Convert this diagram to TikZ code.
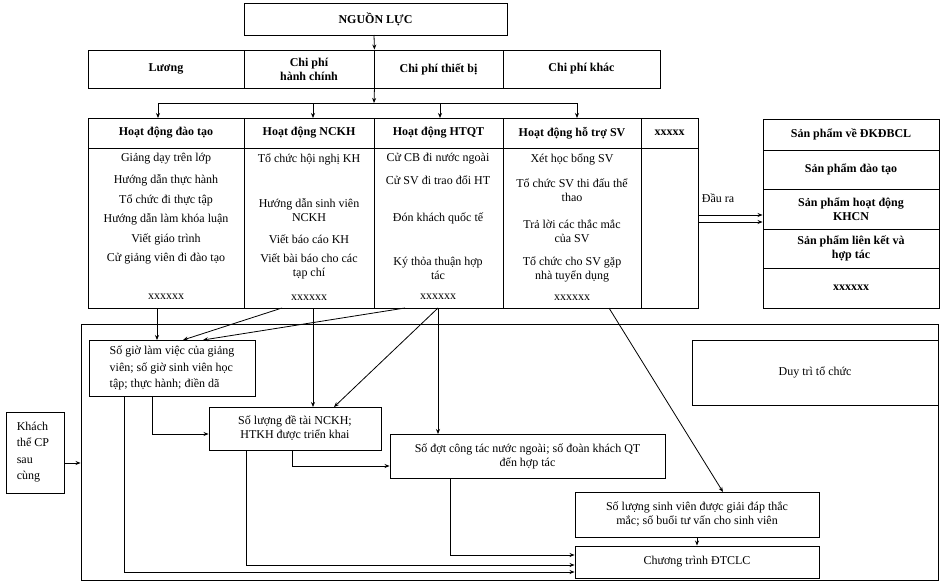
\documentclass[tikz,border=0pt]{standalone}
\usepackage{fontspec}
\setmainfont{Liberation Serif}
\usetikzlibrary{arrows.meta,calc}
\newcommand\bxn[6]{\node[bx,minimum width={(#4-#2)*1pt},minimum height={(#5-#3)*1pt}] (#1) at ({(#2+#4)/2},{(#3+#5)/2}) {#6};}
\begin{document}
\begin{tikzpicture}[x=1pt,y=-1pt,
  bx/.style={draw,line width=0.9pt,inner sep=0pt,align=center,font=\fontsize{12}{14}\selectfont},
  tx/.style={inner sep=0pt,align=center,font=\fontsize{12}{14}\selectfont},
  ar/.style={-{Stealth[length=5pt,width=4pt]},line width=0.8pt},
  ln/.style={line width=0.8pt}]
\useasboundingbox (0,0) rectangle (941,584);
% top
\bxn{nl}{244}{3}{507}{35}{\bfseries NGUỒN LỰC}
\bxn{luong}{88}{50}{244}{88}{\bfseries Lương}
\bxn{hc}{244}{50}{374}{88}{\bfseries Chi phí\\\bfseries hành chính}
\bxn{tb}{374}{50}{503}{88}{\bfseries Chi phí thiết bị}
\bxn{khac}{503}{50}{660}{88}{\bfseries Chi phí khác}
\draw[ar] (374,35) -- (hc.north east);
\coordinate (j) at (374,103);
\draw[ar] (hc.south east) -- (j);
\draw[ln] (158,103) -- (577,103);
% activity table
\bxn{h1}{88}{118}{244}{148}{\bfseries Hoạt động đào tạo}
\bxn{h2}{244}{118}{374}{148}{\bfseries Hoạt động NCKH}
\bxn{h3}{374}{118}{503}{148}{\bfseries Hoạt động HTQT}
\bxn{h4}{503}{118}{641}{148}{\bfseries Hoạt động hỗ trợ SV}
\bxn{h5}{641}{118}{698}{148}{\bfseries xxxxx}
\bxn{b1}{88}{148}{244}{308}{}
\bxn{b2}{244}{148}{374}{308}{}
\bxn{b3}{374}{148}{503}{308}{}
\bxn{b4}{503}{148}{641}{308}{}
\bxn{b5}{641}{148}{698}{308}{}
\foreach \x in {158,313,440,577} \draw[ar] (\x,103) -- (\x,118);
% column texts
\foreach \t/\y in {Giảng dạy trên lớp/159,Hướng dẫn thực hành/180,Tổ chức đi thực tập/200,Hướng dẫn làm khóa luận/219,Viết giáo trình/239,Cử giảng viên đi đào tạo/259,xxxxxx/297}
  \node[tx] at (166,\y) {\t};
\node[tx] at (309,159) {Tổ chức hội nghị KH};
\node[tx] at (309,210) {Hướng dẫn sinh viên\\NCKH};
\node[tx] at (309,239) {Viết báo cáo KH};
\node[tx] at (309,266) {Viết bài báo cho các\\tạp chí};
\node[tx] at (309,298) {xxxxxx};
\node[tx] at (438,159) {Cử CB đi nước ngoài};
\node[tx] at (438,180) {Cử SV đi trao đổi HT};
\node[tx] at (438,218) {Đón khách quốc tế};
\node[tx] at (438,268) {Ký thỏa thuận hợp\\tác};
\node[tx] at (438,297) {xxxxxx};
\node[tx] at (572,159) {Xét học bổng SV};
\node[tx] at (572,190) {Tổ chức SV thi đấu thể\\thao};
\node[tx] at (572,231) {Trả lời các thắc mắc\\của SV};
\node[tx] at (572,269) {Tổ chức cho SV gặp\\nhà tuyển dụng};
\node[tx] at (572,298) {xxxxxx};
% products
\bxn{p1}{763}{119}{939}{150}{\bfseries Sản phẩm về ĐKĐBCL}
\bxn{p2}{763}{150}{939}{189}{\bfseries Sản phẩm đào tạo}
\bxn{p3}{763}{189}{939}{229}{\bfseries Sản phẩm hoạt động\\\bfseries KHCN}
\bxn{p4}{763}{229}{939}{268}{\bfseries Sản phẩm liên kết và\\\bfseries hợp tác}
\bxn{p5}{763}{268}{939}{308}{\bfseries xxxxxx}
\node[tx] (dr) at (718,198) {Đầu ra};
\draw[ar] (b5.east |- 0,215) -- (p3.west |- 0,215);
\draw[ar] (b5.east |- 0,222) -- (p3.west |- 0,222);
% lower frame
\bxn{fr}{81}{324}{938}{580}{}
\node[bx,align=left,inner xsep=5pt,minimum width=166pt,minimum height=56pt,font=\fontsize{12}{16.5}\selectfont] (s1) at (172,368) {Số giờ làm việc của giảng\\viên; số giờ sinh viên học\\tập; thực hành; điền dã};
\bxn{s2}{209}{407}{381}{450}{Số lượng đề tài NCKH;\\HTKH được triển khai}
\bxn{s3}{390}{434}{665}{478}{Số đợt công tác nước ngoài; số đoàn khách QT\\đến hợp tác}
\bxn{s4}{575}{492}{819}{537}{Số lượng sinh viên được giải đáp thắc\\mắc; số buổi tư vấn cho sinh viên}
\bxn{s5}{575}{546}{819}{578}{Chương trình ĐTCLC}
\bxn{dt}{692}{340}{938}{405}{Duy trì tổ chức}
\bxn{kh}{6}{412}{64}{493}{}
\node[tx,align=left,font=\fontsize{12}{16.5}\selectfont] at (33,452) {Khách\\thể CP\\sau\\cùng};
\draw[ar] (kh.east |- 0,463) -- (fr.west |- 0,463);
% arrows
\draw[ar] (157,308) -- (157,340);
\draw[ar] (282,308) -- (183,340);
\draw[ar] (405,308) -- (203,340);
\draw[ar] (313,308) -- (313,407);
\draw[ar] (438,308) -- (334,407);
\draw[ar] (438,308) -- (438,434);
\draw[ar] (609,308) -- (723,492);
\draw[ar] (152,396) |- (s2.west |- 0,434);
\draw[ar] (124,396) |- (s5.west |- 0,572);
\draw[ar] (292,450) |- (s3.west |- 0,466);
\draw[ar] (246,450) |- (s5.west |- 0,565);
\draw[ar] (450,478) |- (s5.west |- 0,555);
\draw[ar] (s4.south) -- (s5.north);
\end{tikzpicture}
\end{document}
